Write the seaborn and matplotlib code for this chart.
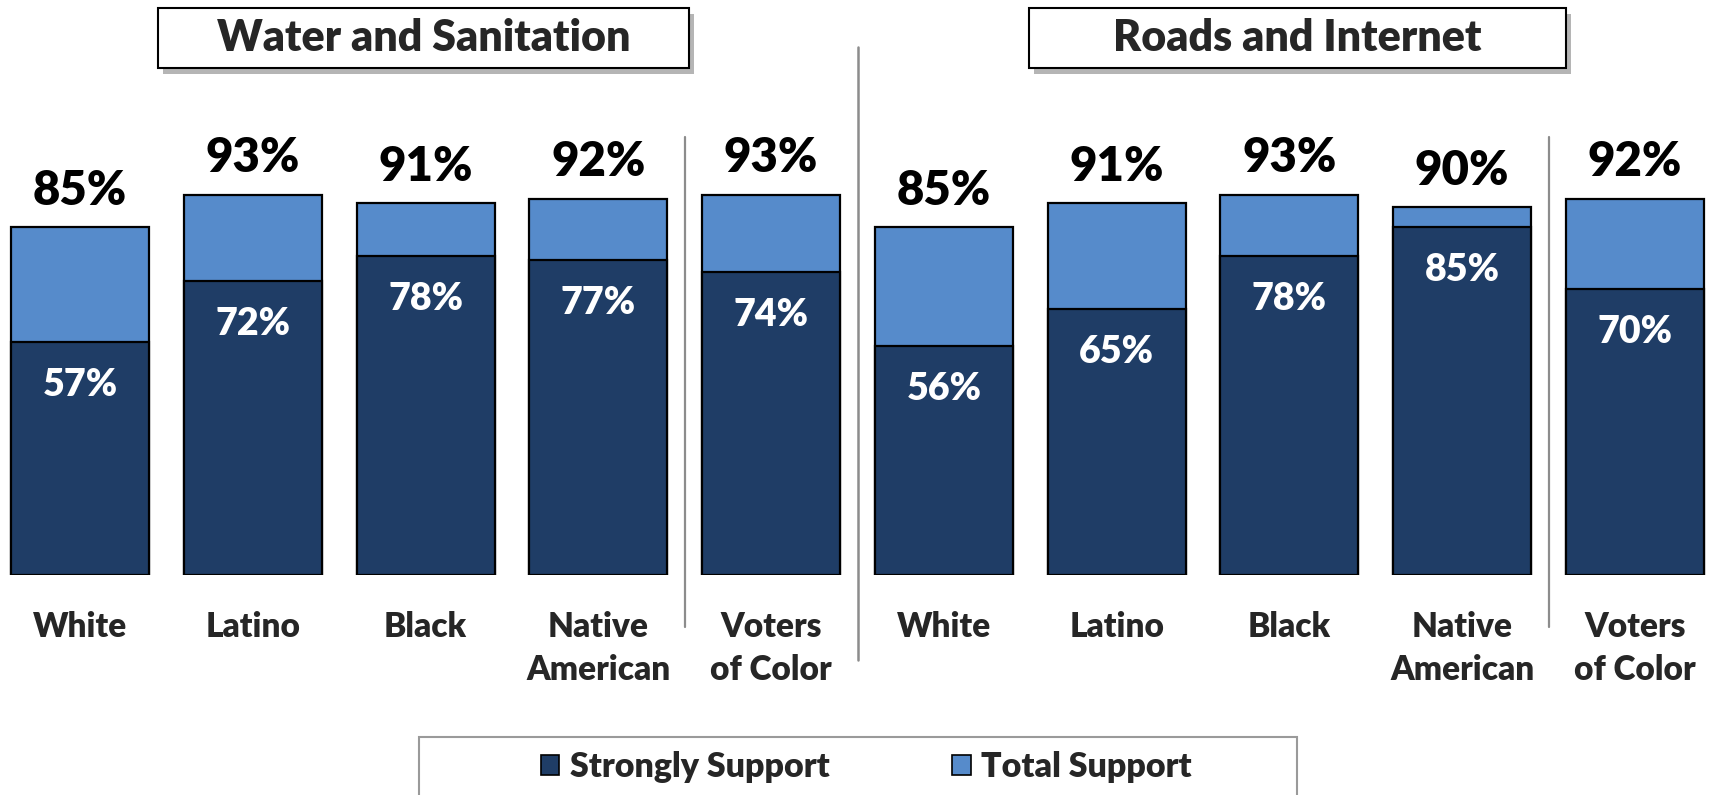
import seaborn as sns
import matplotlib.pyplot as plt
import pandas as pd
from matplotlib.patches import Patch, Rectangle

# data
panels = ['Water and Sanitation', 'Roads and Internet']
groups = ['White', 'Latino', 'Black', 'Native\nAmerican', 'Voters\nof Color']
total_ws = [85, 93, 91, 92, 93]
strong_ws = [57, 72, 78, 77, 74]
total_ri = [85, 91, 93, 90, 92]
strong_ri = [56, 65, 78, 85, 70]

dark = '#1F3D66'
light = '#568BCB'
W = 'heavy'

sns.set_style('white')
plt.rcParams['font.family'] = ['Lato', 'DejaVu Sans']
plt.rcParams['font.weight'] = W

df = pd.DataFrame({
    'slot': list(range(10)),
    'group': groups + groups,
    'total': total_ws + total_ri,
    'strong': strong_ws + strong_ri,
})

fig = plt.figure(figsize=(17.09, 7.95), dpi=100)
ax = fig.add_axes([0, 220 / 795, 1, 409 / 795])

sns.barplot(data=df, x='slot', y='total', color=light, saturation=1, width=0.8,
            edgecolor='black', linewidth=1.6, errorbar=None, ax=ax)
sns.barplot(data=df, x='slot', y='strong', color=dark, saturation=1, width=0.8,
            edgecolor='black', linewidth=1.6, errorbar=None, ax=ax)

ax.set_xlim(-0.464, 9.429)
ax.set_ylim(0, 100)
sns.despine(ax=ax, left=True, bottom=True)
ax.set_yticks([])
ax.set_ylabel('')
ax.set_xlabel('')
ax.set_xticks(df['slot'])
ax.set_xticklabels(df['group'], fontsize=24, fontweight=W, linespacing=1.4)
ax.tick_params(axis='x', length=0, pad=26)

for i, row in df.iterrows():
    ax.annotate(f"{row['total']}%", (row['slot'], row['total']), xytext=(0, 16),
                textcoords='offset points', ha='center', va='baseline',
                fontsize=34, fontweight=W, color='black', annotation_clip=False)
    ax.annotate(f"{row['strong']}%", (row['slot'], row['strong']), xytext=(0, -31),
                textcoords='offset points', ha='center', va='center',
                fontsize=27, fontweight=W, color='white')

# separators
for xs, y0, y1, lw in [(3.5, -12.7, 107.2, 1.6), (8.5, -12.7, 107.2, 1.6), (4.5, -20.8, 129.2, 1.8)]:
    ax.plot([xs, xs], [y0, y1], color='#8C8C8C', lw=lw, clip_on=False)

# title boxes with drop shadow
for (x0, x1), name in zip([(158, 689), (1029, 1566)], panels):
    shadow = Rectangle((x0 / 1709 + 0.003, 1 - 68 / 795 - 0.008), (x1 - x0) / 1709, 60 / 795,
                       transform=fig.transFigure, facecolor='#B5B5B5', edgecolor='none', zorder=1)
    box = Rectangle((x0 / 1709, 1 - 68 / 795), (x1 - x0) / 1709, 60 / 795,
                    transform=fig.transFigure, facecolor='white', edgecolor='black', lw=1.5, zorder=2)
    fig.patches.extend([shadow, box])
    fig.text((x0 + x1) / 2 / 1709, 1 - 38 / 795, name, ha='center', va='center',
             fontsize=31, fontweight=W, zorder=3)

# legend frame and legend
frame = Rectangle((419 / 1709, -0.02), (1297 - 419) / 1709, 1 - 737 / 795 + 0.02,
                  transform=fig.transFigure, facecolor='white', edgecolor='#9A9A9A', lw=1.5)
fig.patches.append(frame)
handles = [Patch(facecolor=dark, edgecolor='black', lw=1.2, label='Strongly Support'),
           Patch(facecolor=light, edgecolor='black', lw=1.2, label='Total Support')]
fig.legend(handles=handles, loc='center', bbox_to_anchor=(866 / 1709, 1 - 767 / 795),
           ncol=2, frameon=False, prop={'family': 'Lato', 'weight': W, 'size': 24.5},
           handlelength=0.55, handleheight=0.55, handletextpad=0.3, columnspacing=3.6)

fig.savefig('out.png', dpi=100)
